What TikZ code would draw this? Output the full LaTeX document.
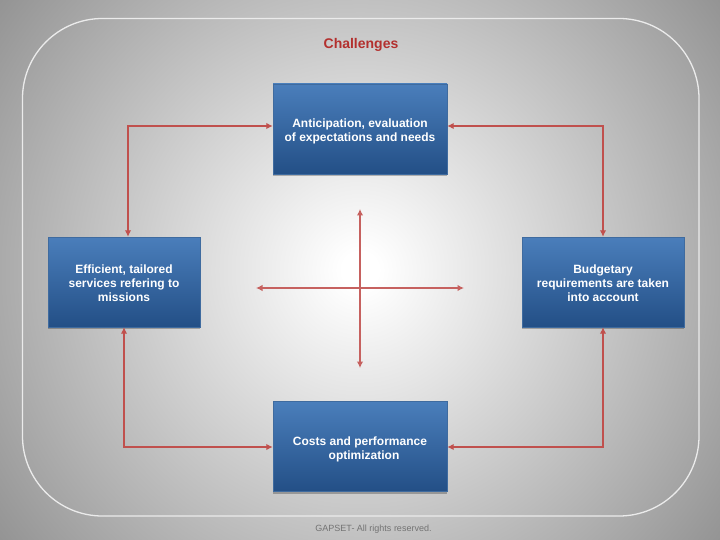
\documentclass[tikz,border=0pt]{standalone}
\usepackage{fontspec}
\setmainfont{Liberation Sans}
\usetikzlibrary{shadows,arrows.meta}
\definecolor{boxtop}{HTML}{4A7EBB}
\definecolor{boxbottom}{HTML}{234F86}
\definecolor{linkred}{HTML}{C0504D}
\definecolor{titlered}{HTML}{B3302E}
\pgfdeclareradialshading{slideback}{\pgfpoint{0bp}{0bp}}{color(0bp)=(white);color(1bp)=(white);color(25bp)=(black!42);color(50bp)=(black!42)}
\newcommand{\lowered}[1]{\rule{0pt}{#1}}
\begin{document}
\begin{tikzpicture}[x=1pt,y=-1pt]
        \tikzset{challenge/.style={draw=boxtop!85!black,line width=0.4pt,top color=boxtop,bottom color=boxbottom,
            text=white,align=center,font=\fontsize{12}{14}\selectfont\bfseries,inner sep=0pt,
            minimum height=90pt,general shadow={fill=black,opacity=0.25,shadow yshift=-2pt}},
          link/.style={draw=linkred,line width=1.5pt,{Latex[length=6.5pt,width=6.5pt]}-{Latex[length=6.5pt,width=6.5pt]}},
          cross/.style={link,draw=linkred!90,line width=1.5pt}}
        \useasboundingbox (0,0) rectangle (720,540);
        % background
        \begin{scope}
          \clip (0,0) rectangle (720,540);
          \shade[shading=slideback] (360,270) circle (450);
        \end{scope}
        \draw[white!92!black,line width=1.3pt,rounded corners=80pt] (22.5,18.5) rectangle (699,516);
        \node[font=\fontsize{14}{16}\selectfont\bfseries,text=titlered] (title) at (361,45) {Challenges};
        \node[font=\fontsize{9}{11}\selectfont,text=black!55] (footer) at (373.5,529.5) {GAPSET- All rights reserved.};
        % boxes
        \node[challenge,minimum width=174pt] (needs) at (360,129) {\lowered{13pt}Anticipation, evaluation\\of expectations and needs};
        \node[challenge,minimum width=152pt] (services) at (124,282) {\lowered{11pt}Efficient, tailored\\services refering to\\missions};
        \node[challenge,minimum width=162pt] (budget) at (603,282) {\lowered{11pt}Budgetary\\requirements are taken\\into account};
        \node[challenge,minimum width=174pt] (costs) at (360,446.5) {\lowered{15pt}Costs and performance\\\hspace*{8pt}optimization};
        % links
        \draw[link] ([yshift=3pt]needs.west) -| ([xshift=4pt]services.north);
        \draw[link] ([yshift=3pt]needs.east) -| (budget.north);
        \draw[link] (services.south) |- ([yshift=-0.5pt]costs.west);
        \draw[link] (budget.south) |- ([yshift=-0.5pt]costs.east);
        % cross
        \coordinate (crossN) at (360,209);
        \coordinate (crossS) at (360,368);
        \coordinate (crossW) at (256,288);
        \coordinate (crossE) at (464,288);
        \draw[cross] (crossN) -- (crossS);
        \draw[cross] (crossW) -- (crossE);
      \end{tikzpicture}
\end{document}
